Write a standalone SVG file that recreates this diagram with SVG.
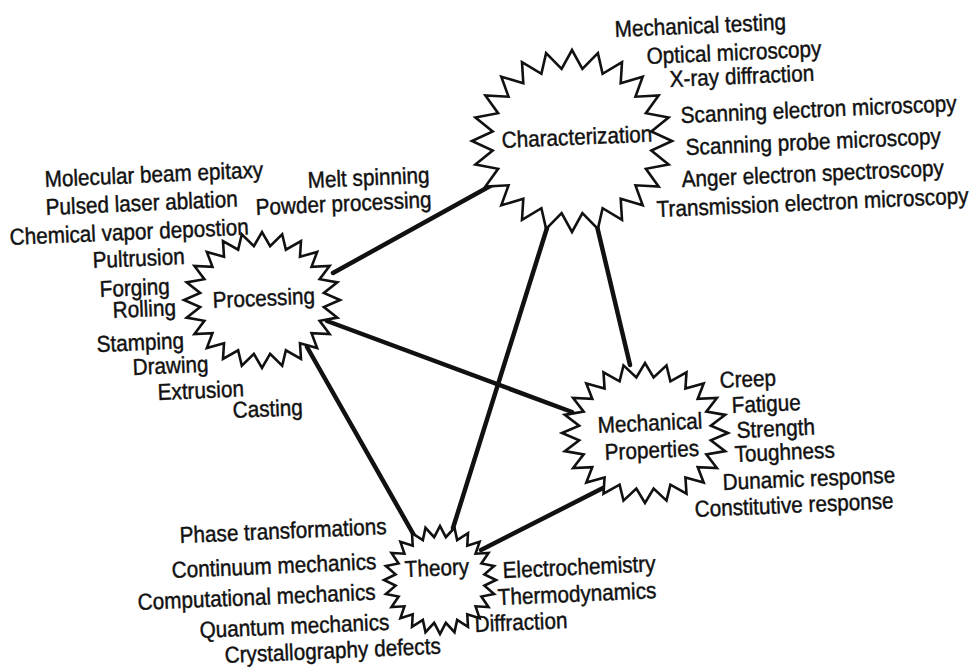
<svg xmlns="http://www.w3.org/2000/svg" xmlns:xlink="http://www.w3.org/1999/xlink" width="972" height="671" viewBox="0 0 972 671">
  <style>
    text { font-family: "Liberation Sans", Arial, sans-serif; font-size: 23px; fill: #111; stroke: #111; stroke-width: 0.45px; }
    .edge { stroke: #111; stroke-width: 4.5; stroke-linecap: round; fill: none; }
    .burst { fill: #fff; stroke: #111; stroke-width: 2.6; stroke-linejoin: miter; vector-effect: non-scaling-stroke; }
  </style>
  <defs>
    <!-- 24-point burst, unit radius 100 -->
    <polygon id="burst24" class="burst" points="100,0 79.3,10.4 96.6,25.9 73.9,30.6 86.6,50 63.5,48.7 70.7,70.7 48.7,63.5 50,86.6 30.6,73.9 25.9,96.6 10.4,79.3 0,100 -10.4,79.3 -25.9,96.6 -30.6,73.9 -50,86.6 -48.7,63.5 -70.7,70.7 -63.5,48.7 -86.6,50 -73.9,30.6 -96.6,25.9 -79.3,10.4 -100,0 -79.3,-10.4 -96.6,-25.9 -73.9,-30.6 -86.6,-50 -63.5,-48.7 -70.7,-70.7 -48.7,-63.5 -50,-86.6 -30.6,-73.9 -25.9,-96.6 -10.4,-79.3 0,-100 10.4,-79.3 25.9,-96.6 30.6,-73.9 50,-86.6 48.7,-63.5 70.7,-70.7 63.5,-48.7 86.6,-50 73.9,-30.6 96.6,-25.9 79.3,-10.4"/>
  </defs>

  <rect width="972" height="671" fill="#fff"/>

  <!-- connectors -->
  <g id="connectors">
    <line class="edge" x1="333" y1="273" x2="492" y2="185"/>
    <line class="edge" x1="327" y1="321" x2="572" y2="412"/>
    <line class="edge" x1="307" y1="347" x2="415" y2="537"/>
    <line class="edge" x1="547" y1="228" x2="453" y2="528"/>
    <line class="edge" x1="596" y1="222" x2="630" y2="365"/>
    <line class="edge" x1="603" y1="488" x2="481" y2="550"/>
  </g>

  <!-- Characterization -->
  <g id="characterization">
    <use href="#burst24" transform="translate(572 141) scale(1 0.91)"/>
    <text transform="translate(502 148) rotate(-2.5) scale(0.9 1)">Characterization</text>
    <text transform="translate(615 37) rotate(-2.5) scale(0.9 1)">Mechanical testing</text>
    <text transform="translate(647 64) rotate(-2.5) scale(0.9 1)">Optical microscopy</text>
    <text transform="translate(670 87) rotate(-2.5) scale(0.9 1)">X-ray diffraction</text>
    <text transform="translate(681 123) rotate(-2.5) scale(0.9 1)">Scanning electron microscopy</text>
    <text transform="translate(686 155) rotate(-2.5) scale(0.9 1)">Scanning probe microscopy</text>
    <text transform="translate(682 187) rotate(-2.5) scale(0.9 1)">Anger electron spectroscopy</text>
    <text transform="translate(657 217) rotate(-2.5) scale(0.9 1)">Transmission electron microscopy</text>
  </g>

  <!-- Processing -->
  <g id="processing">
    <use href="#burst24" transform="translate(262 300) scale(0.78 0.68)"/>
    <text transform="translate(213 308) rotate(-2.5) scale(0.9 1)">Processing</text>
    <text transform="translate(308 188) rotate(-2.5) scale(0.9 1)">Melt spinning</text>
    <text transform="translate(256 215) rotate(-2.5) scale(0.9 1)">Powder processing</text>
    <text transform="translate(45 187) rotate(-2.5) scale(0.9 1)">Molecular beam epitaxy</text>
    <text transform="translate(46 215) rotate(-2.5) scale(0.9 1)">Pulsed laser ablation</text>
    <text transform="translate(10 245) rotate(-2.5) scale(0.9 1)">Chemical vapor depostion</text>
    <text transform="translate(93 268) rotate(-2.5) scale(0.9 1)">Pultrusion</text>
    <text transform="translate(100 297) rotate(-2.5) scale(0.9 1)">Forging</text>
    <text transform="translate(113 318) rotate(-2.5) scale(0.9 1)">Rolling</text>
    <text transform="translate(97 352) rotate(-2.5) scale(0.9 1)">Stamping</text>
    <text transform="translate(133 375) rotate(-2.5) scale(0.9 1)">Drawing</text>
    <text transform="translate(158 400) rotate(-2.5) scale(0.9 1)">Extrusion</text>
    <text transform="translate(233 418) rotate(-2.5) scale(0.9 1)">Casting</text>
  </g>

  <!-- Mechanical Properties -->
  <g id="mechanical-properties">
    <use href="#burst24" transform="translate(645 433) scale(0.83 0.70)"/>
    <text transform="translate(598 433) rotate(-2.5) scale(0.9 1)">Mechanical</text>
    <text transform="translate(605 460) rotate(-2.5) scale(0.9 1)">Properties</text>
    <text transform="translate(720 388) rotate(-2.5) scale(0.9 1)">Creep</text>
    <text transform="translate(732 413) rotate(-2.5) scale(0.9 1)">Fatigue</text>
    <text transform="translate(737 438) rotate(-2.5) scale(0.9 1)">Strength</text>
    <text transform="translate(735 462) rotate(-2.5) scale(0.9 1)">Toughness</text>
    <text transform="translate(723 490) rotate(-2.5) scale(0.9 1)">Dunamic response</text>
    <text transform="translate(695 517) rotate(-2.5) scale(0.9 1)">Constitutive response</text>
  </g>

  <!-- Theory -->
  <g id="theory">
    <use href="#burst24" transform="translate(440 580) scale(0.56 0.54)"/>
    <text transform="translate(405 577) rotate(-2.5) scale(0.9 1)">Theory</text>
    <text transform="translate(180 543) rotate(-2.5) scale(0.9 1)">Phase transformations</text>
    <text transform="translate(172 578) rotate(-2.5) scale(0.9 1)">Continuum mechanics</text>
    <text transform="translate(138 610) rotate(-2.5) scale(0.9 1)">Computational mechanics</text>
    <text transform="translate(200 638) rotate(-2.5) scale(0.9 1)">Quantum mechanics</text>
    <text transform="translate(225 663) rotate(-2.5) scale(0.9 1)">Crystallography defects</text>
    <text transform="translate(503 578) rotate(-2.5) scale(0.9 1)">Electrochemistry</text>
    <text transform="translate(498 605) rotate(-2.5) scale(0.9 1)">Thermodynamics</text>
    <text transform="translate(475 632) rotate(-2.5) scale(0.9 1)">Diffraction</text>
  </g>
</svg>
